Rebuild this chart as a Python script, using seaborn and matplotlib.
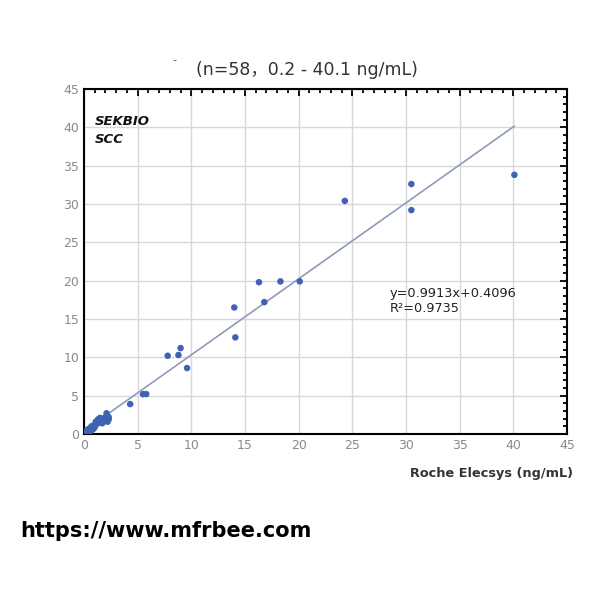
import matplotlib
matplotlib.use("Agg")
import matplotlib.pyplot as plt
import seaborn as sns
import numpy as np
import pandas as pd
from matplotlib.ticker import MultipleLocator

roche_x = [40.1, 30.5, 30.5, 24.3, 20.1, 18.3, 16.3, 16.8, 14.0, 14.1,
           9.6, 9.0, 8.8, 7.8, 5.5, 5.8, 4.3,
           2.1, 2.2, 2.3, 2.2, 2.0, 1.8, 1.6, 1.5, 1.4, 1.3, 1.2, 1.1, 1.0, 1.0,
           0.9, 0.9, 0.8, 0.8, 0.7, 0.7, 0.6, 0.6, 0.5, 0.5, 0.5, 0.4, 0.4, 0.4,
           0.3, 0.3, 0.3, 0.2, 0.2, 0.2, 1.3, 1.7, 1.9, 1.1, 0.6, 2.3, 1.5]
sekbio_y = [33.8, 32.6, 29.2, 30.4, 19.9, 19.9, 19.8, 17.2, 16.5, 12.6,
            8.6, 11.2, 10.3, 10.2, 5.2, 5.2, 3.9,
            2.7, 2.3, 1.9, 1.6, 2.2, 1.9, 2.0, 1.6, 1.8, 1.5, 1.3, 1.6, 1.2, 0.9,
            1.1, 0.7, 0.9, 0.6, 1.0, 0.5, 0.8, 0.4, 0.7, 0.5, 0.3, 0.6, 0.3, 0.2,
            0.5, 0.3, 0.1, 0.4, 0.2, 0.1, 1.9, 1.4, 1.7, 1.3, 0.6, 2.2, 2.1]

slope = 0.9913
intercept = 0.4096
line_x = [0.0, 40.1]

title = "(n=58，0.2 - 40.1 ng/mL)"
xlabel = "Roche Elecsys (ng/mL)"
eq_text = "y=0.9913x+0.4096\nR²=0.9735"
brand = "SEKBIO\nSCC"

sns.set_style("white")
plt.rcParams['font.family'] = ['DejaVu Sans', 'Noto Sans CJK SC']

fig = plt.figure(figsize=(6, 6), dpi=100)
ax = fig.add_axes([0.14, 0.2767, 0.805, 0.575])

df = pd.DataFrame({"x": roche_x, "y": sekbio_y})
line_df = pd.DataFrame({"x": line_x, "y": [slope * v + intercept for v in line_x]})
sns.lineplot(data=line_df, x="x", y="y", ax=ax, color="#8d9bb8", linewidth=1.2)
sns.scatterplot(data=df, x="x", y="y", ax=ax, color="#3f63b3", s=22,
                edgecolor="none", zorder=3)

ax.set_xlim(0, 45)
ax.set_ylim(0, 45)
ax.xaxis.set_major_locator(MultipleLocator(5))
ax.yaxis.set_major_locator(MultipleLocator(5))
ax.xaxis.set_minor_locator(MultipleLocator(1))
ax.yaxis.set_minor_locator(MultipleLocator(1))
ax.grid(True, which="major", color="#d8d8d8", linewidth=1)
ax.set_axisbelow(True)
for s in ax.spines.values():
    s.set_color("black")
    s.set_linewidth(1.5)
ax.tick_params(which="both", direction="in", top=True, right=True,
               colors="black", labelcolor="#8a8a8a", labelsize=9)
ax.tick_params(which="major", length=5, width=1.3)
ax.tick_params(which="minor", length=3, width=1.3)
ax.set_xlabel("")
ax.set_ylabel("")

ax.text(0.022, 0.925, brand, transform=ax.transAxes, fontsize=9.5,
        fontweight="bold", fontstyle="italic", va="top", ha="left",
        color="#111111", linespacing=1.5)
ax.text(0.632, 0.385, eq_text, transform=ax.transAxes, fontsize=9.3,
        va="center", ha="left", color="#222222", linespacing=1.25)

fig.text(0.512, 0.883, title, fontsize=12.5, ha="center", va="center",
         color="#333333")
fig.text(0.955, 0.21, xlabel, fontsize=9.3, ha="right", va="center",
         color="#333333", fontweight="bold")
fig.text(0.29, 0.9, "-", fontsize=8, ha="center", va="center", color="#444444")
fig.text(0.033, 0.115, "https://www.mfrbee.com", fontsize=15, ha="left",
         va="center", color="black", fontweight="bold")

fig.savefig("out.png", dpi=100, facecolor="white")
